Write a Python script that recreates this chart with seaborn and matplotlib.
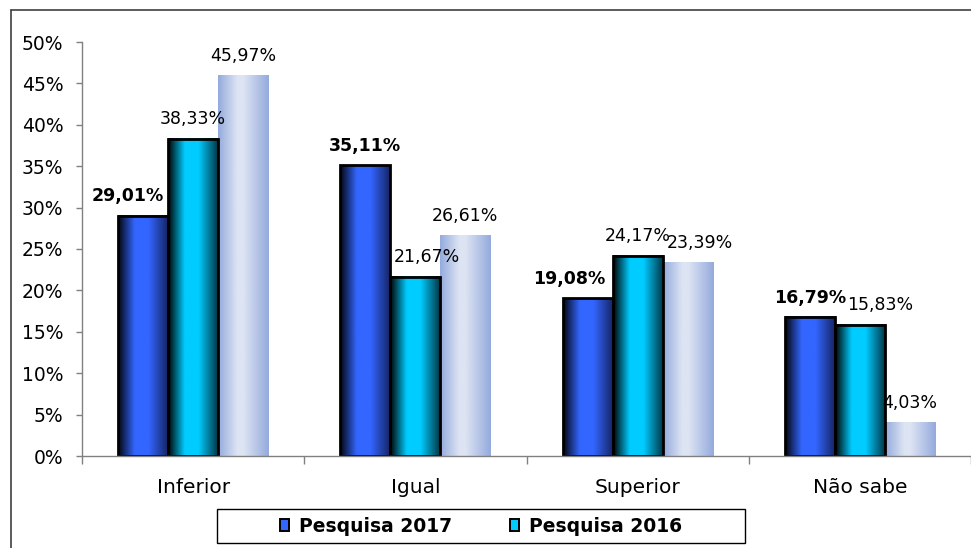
import numpy as np
import pandas as pd
import matplotlib
matplotlib.use("Agg")
import matplotlib.pyplot as plt
from matplotlib.colors import LinearSegmentedColormap
from matplotlib.patches import Patch, Rectangle
from matplotlib.lines import Line2D
from matplotlib.ticker import PercentFormatter
import seaborn as sns

# ---- data -------------------------------------------------------------
categorias = ["Inferior", "Igual", "Superior", "Não sabe"]
series = ["Pesquisa 2017", "Pesquisa 2016", "Pesquisa 2015"]
pesquisa_2017 = [29.01, 35.11, 19.08, 16.79]
pesquisa_2016 = [38.33, 21.67, 24.17, 15.83]
pesquisa_2015 = [45.97, 26.61, 23.39, 4.03]
y_ticks = [0, 5, 10, 15, 20, 25, 30, 35, 40, 45, 50]

df = pd.DataFrame({
    "categoria": categorias * 3,
    "serie": [s for s in series for _ in categorias],
    "valor": pesquisa_2017 + pesquisa_2016 + pesquisa_2015,
})

# ---- style ------------------------------------------------------------
sns.set_theme(style="white")
plt.rcParams["font.family"] = ["DejaVu Sans"]
plt.rcParams["text.color"] = "black"
plt.rcParams["xtick.labelcolor"] = "black"
plt.rcParams["ytick.labelcolor"] = "black"

base_colors = {"Pesquisa 2017": "#3366ff",
               "Pesquisa 2016": "#00ccff",
               "Pesquisa 2015": "#b8c6e8"}
gradients = [
    LinearSegmentedColormap.from_list("g17", [(0, "#02040c"), (0.33, "#3366ff"),
                                              (0.6, "#3366ff"), (1, "#14215e")]),
    LinearSegmentedColormap.from_list("g16", [(0, "#000000"), (0.33, "#00ccff"),
                                              (0.6, "#00ccff"), (1, "#00303e")]),
    LinearSegmentedColormap.from_list("g15", [(0, "#94aadd"), (0.38, "#dde4f3"),
                                              (0.5, "#dde4f3"), (1, "#94aadd")]),
]
edge_colors = ["black", "black", "none"]
label_weights = ["bold", "normal", "normal"]
# small horizontal nudges (pixels) to keep neighbouring labels apart
nudges = {(0, 0): -15, (0, 2): -18, (1, 1): 11, (1, 3): 20, (2, 2): 12}

W, H = 971, 548
fig = plt.figure(figsize=(W / 100, H / 100), dpi=100)
fig.patch.set_facecolor("white")
ax = fig.add_axes([82 / W, 1 - 456 / H, 1 - 82 / W, (456 - 42) / H])

sns.barplot(data=df, x="categoria", y="valor", hue="serie", order=categorias,
            hue_order=series, palette=base_colors, width=0.675, saturation=1,
            legend=False, ax=ax)

# ---- gradient fill for every bar -----------------------------------------
ramp = np.linspace(0, 1, 256).reshape(1, -1)
for i, cont in enumerate(ax.containers):
    for j, bar in enumerate(cont.patches):
        x, w, h = bar.get_x(), bar.get_width(), bar.get_height()
        ax.imshow(ramp, cmap=gradients[i], extent=[x, x + w, 0, h],
                  aspect="auto", zorder=1.9, interpolation="bilinear")
        bar.set_facecolor("none")
        bar.set_edgecolor(edge_colors[i])
        bar.set_linewidth(2.0 if edge_colors[i] != "none" else 0)
        bar.set_zorder(2.5)
        label = f"{h:.2f}".replace(".", ",") + "%"
        dx = nudges.get((i, j), 0) * 0.72
        ax.annotate(label, (x + w / 2, h), xytext=(dx, 14),
                    textcoords="offset points", ha="center", va="center",
                    fontsize=12.5, fontweight=label_weights[i], color="black",
                    zorder=5)

ax.set_xlim(-0.5, 3.5)
ax.set_ylim(0, 50)

# ---- axes -------------------------------------------------------------
ax.set_xlabel("")
ax.set_ylabel("")
for s in ["top", "right"]:
    ax.spines[s].set_visible(False)
for s in ["left", "bottom"]:
    ax.spines[s].set_color("#808080")
    ax.spines[s].set_linewidth(1)

ax.set_yticks(y_ticks)
ax.yaxis.set_major_formatter(PercentFormatter(xmax=100, decimals=0))
ax.tick_params(axis="y", direction="out", length=4.5, width=1, color="#808080",
               pad=9, labelsize=13.5, labelcolor="black", left=True)

ax.set_xticks([-0.5, 0.5, 1.5, 2.5, 3.5], labels=[])
ax.set_xticks(range(len(categorias)), labels=categorias, minor=True)
ax.tick_params(axis="x", which="major", direction="out", length=6, width=1,
               color="#808080", bottom=True)
ax.tick_params(axis="x", which="minor", length=0, pad=16, labelsize=14.5,
               labelcolor="black")

# ---- outer frame -------------------------------------------------------
fig.add_artist(Line2D([11 / W, 11 / W], [0, 1 - 10 / H], transform=fig.transFigure,
                      color="#404040", lw=1.2))
fig.add_artist(Line2D([11 / W, 1], [1 - 10 / H, 1 - 10 / H], transform=fig.transFigure,
                      color="#404040", lw=1.2))

# ---- legend -----------------------------------------------------------
fig.add_artist(Rectangle((217 / W, 1 - 543 / H), (745 - 217) / W, 34 / H,
                         transform=fig.transFigure, facecolor="white",
                         edgecolor="black", lw=1, zorder=3))
handles = [Patch(facecolor=base_colors[s], edgecolor="black", lw=1.4) for s in series[:2]]
leg = fig.legend(handles, series[:2], loc="center",
                 bbox_to_anchor=(481 / W, 1 - 526 / H), ncol=2, frameon=False,
                 prop={"weight": "bold", "size": 13.5}, handlelength=0.45,
                 handleheight=0.65, handletextpad=0.55, columnspacing=3.1)
for t in leg.get_texts():
    t.set_color("black")
leg.set_zorder(4)

fig.savefig("out.png", dpi=100, facecolor="white")
